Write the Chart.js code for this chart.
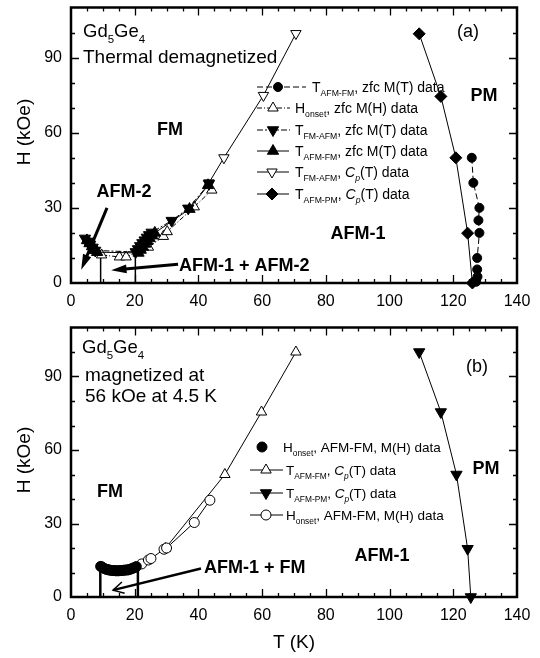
<!DOCTYPE html>
<html>
<head>
<meta charset="utf-8">
<script src="https://cdn.jsdelivr.net/npm/chart.js@4.4.1/dist/chart.umd.min.js"></script>
<style>
  html, body { margin: 0; padding: 0; background: #fff; }
  #wrap { position: relative; width: 540px; height: 658px; }
  #wrap canvas { position: absolute; left: 0; }
  #chartA { top: 0; width: 540px; height: 320px; }
  #chartB { top: 320px; width: 540px; height: 338px; }
</style>
</head>
<body>
<div id="wrap">
  <canvas id="chartA" width="540" height="320"></canvas>
  <canvas id="chartB" width="540" height="338"></canvas>
</div>
<script>
//------------- DATA: panel (a), thermal demagnetized -------------

// T_AFM-FM, zfc M(T) data (filled circles, dashed)
const aCircT = [125.8, 126.3, 128.2, 127.9, 128.2, 127.5, 127.5, 127.6, 127.2];
const aCircH = [50, 40, 30, 25, 20, 10, 5.4, 2.5, 0.5];
// H_onset, zfc M(H) data (open up triangles, dashed)
const aOnsetT = [7.0, 9.6, 15.2, 17.3, 24.3, 29.0, 30.2, 38.7, 44.2];
const aOnsetH = [13.0, 11.2, 10.4, 10.4, 14.3, 18.6, 20.5, 30.4, 37.1];
// T_FM-AFM, zfc M(T) data (filled down triangles, dash-dot)
const aFmAfmT = [4.4, 5.2, 6.0, 6.8, 7.6, 20.3, 21.0, 21.7, 22.4, 23.1, 23.8, 24.5, 25.3, 31.6, 36.8, 43.3];
const aFmAfmH = [17.8, 16.6, 15.4, 14.2, 13.0, 12.4, 13.6, 14.8, 16.0, 17.1, 18.2, 19.2, 20.2, 24.9, 29.8, 39.6];
// T_AFM-FM, zfc M(T) data (filled up triangles, solid)
const aAfmFmT = [5.0, 5.8, 6.6, 7.4, 8.2, 21.2, 21.9, 22.6, 23.3, 24.0, 24.7, 25.5, 26.3, 37.2, 43.0];
const aAfmFmH = [17.0, 15.8, 14.6, 13.4, 12.3, 12.0, 13.2, 14.4, 15.6, 16.7, 17.8, 18.9, 20.0, 29.5, 39.0];
// T_FM-AFM, Cp(T) data (open down triangles, solid)
const aCpT = [43.3, 48.0, 60.4, 70.6];
const aCpH = [40, 50, 74.9, 99.6];
// T_AFM-PM, Cp(T) data (filled diamonds, solid)
const aPmT = [109.3, 116.1, 120.8, 124.5, 126.0];
const aPmH = [99.5, 74.5, 50, 19.9, 0];
// vertical phase boundaries at low T
const aWallT = [9.3, 20.2];
const aWallH = [11, 11.5];

//------------- DATA: panel (b), magnetized at 56 kOe -------------

// H_onset, AFM-FM, M(H) data (filled circles)
const bFillT = [9.3, 9.6, 10.0, 10.5, 11.0, 11.5, 12.0, 12.5, 13.0, 13.5, 14.0, 14.5, 15.0, 15.5, 16.0, 16.5, 17.0, 17.5, 18.0, 18.5, 19.0, 19.5, 20.0, 20.5];
const bFillH = [12.5, 12.3, 12.0, 11.6, 11.3, 11.2, 11.0, 10.9, 10.8, 10.8, 10.7, 10.7, 10.7, 10.8, 10.8, 10.9, 11.0, 11.0, 11.1, 11.3, 11.5, 11.8, 12.0, 12.4];
// T_AFM-FM, Cp(T) data (open up triangles)
const bCpT = [29.6, 48.3, 59.8, 70.6];
const bCpH = [19.8, 50, 75.5, 100];
// T_AFM-PM, Cp(T) data (filled down triangles)
const bPmT = [109.3, 116.1, 121.0, 124.5, 125.5];
const bPmH = [100, 75.5, 50, 19.7, 0];
// H_onset, AFM-FM, M(H) data (open circles)
const bOpenT = [22.2, 24.3, 25.1, 29.2, 30.0, 38.7, 43.6];
const bOpenH = [13.5, 15.1, 15.7, 19.5, 20.0, 30.4, 39.5];
const bWallT = [9.2, 21.0];
const bWallH = [12, 12];

const xTicks = [0, 20, 40, 60, 80, 100, 120, 140];
const yTicks = [0, 30, 60, 90];

//------------- HELPERS -------------

const FONT = '"Liberation Sans", Arial, Helvetica, sans-serif';
Chart.defaults.font.family = FONT;
Chart.defaults.color = '#000';

const pts = (xs, ys) => xs.map((x, i) => ({ x: x, y: ys[i] }));

function series(xs, ys, o) {
  return Object.assign({
    data: pts(xs, ys),
    showLine: true,
    borderColor: '#000',
    backgroundColor: '#000',
    borderWidth: 1,
    pointBorderWidth: 1,
    pointRadius: 5,
    pointStyle: 'circle',
    pointRotation: 0,
    tension: 0,
    clip: false
  }, o);
}

function wall(t, h) {
  return series([t, t], [0, h], { pointRadius: 0, borderWidth: 1.5 });
}

function rich(ctx, x, y, parts, size, bold) {
  let cx = x;
  for (const [t, k] of parts) {
    const sub = k.includes('s');
    const it = k.includes('i');
    const fs = sub ? size * 0.62 : size;
    ctx.font = (it ? 'italic ' : '') + (bold ? 'bold ' : '') + fs + 'px ' + FONT;
    ctx.fillText(t, cx, sub ? y + size * 0.3 : y);
    cx += ctx.measureText(t).width;
  }
}

function text(ctx, s, x, y, size, bold, align) {
  ctx.font = (bold ? 'bold ' : '') + size + 'px ' + FONT;
  ctx.textAlign = align || 'left';
  ctx.textBaseline = 'middle';
  ctx.fillText(s, x, y);
  ctx.textAlign = 'left';
  ctx.textBaseline = 'alphabetic';
}

function arrow(chart, t1, h1, t2, h2, w, head, filled) {
  const ctx = chart.ctx, xs = chart.scales.x, ys = chart.scales.y;
  const x1 = xs.getPixelForValue(t1), y1 = ys.getPixelForValue(h1);
  const x2 = xs.getPixelForValue(t2), y2 = ys.getPixelForValue(h2);
  const a = Math.atan2(y2 - y1, x2 - x1);
  const spread = filled ? 0.28 : 0.5;
  ctx.save();
  ctx.strokeStyle = '#000';
  ctx.fillStyle = '#000';
  ctx.lineWidth = w;
  ctx.beginPath();
  ctx.moveTo(x1, y1);
  ctx.lineTo(filled ? x2 - Math.cos(a) * head * 0.7 : x2, filled ? y2 - Math.sin(a) * head * 0.7 : y2);
  ctx.stroke();
  const p1 = [x2 - head * Math.cos(a - spread), y2 - head * Math.sin(a - spread)];
  const p2 = [x2 - head * Math.cos(a + spread), y2 - head * Math.sin(a + spread)];
  ctx.beginPath();
  ctx.moveTo(p1[0], p1[1]);
  ctx.lineTo(x2, y2);
  ctx.lineTo(p2[0], p2[1]);
  if (filled) { ctx.closePath(); ctx.fill(); }
  else { ctx.lineWidth = 1.5; ctx.stroke(); }
  ctx.restore();
}

function legendRow(ctx, y, x0, x1, dash, mx, marker, fill, textX, parts, size) {
  ctx.save();
  ctx.strokeStyle = '#000';
  ctx.lineWidth = 1;
  if (x1 > x0) {
    ctx.setLineDash(dash);
    ctx.beginPath();
    ctx.moveTo(x0, y);
    ctx.lineTo(x1, y);
    ctx.stroke();
    ctx.setLineDash([]);
  }
  ctx.fillStyle = fill;
  Chart.helpers.drawPoint(ctx, marker, mx, y);
  ctx.fillStyle = '#000';
  rich(ctx, textX, y + 4.5, parts, size || 13.5);
  ctx.restore();
}

// frame with inward ticks on all four sides
const framePlugin = {
  id: 'frame',
  beforeDatasetsDraw(chart) {
    const ctx = chart.ctx, a = chart.chartArea;
    const xs = chart.scales.x, ys = chart.scales.y;
    ctx.save();
    ctx.strokeStyle = '#000';
    ctx.lineWidth = 1.3;
    ctx.beginPath();
    for (let t = 5; t < 140; t += 5) {
      const px = Math.round(xs.getPixelForValue(t)) + 0.5;
      const len = t % 20 === 0 ? 8 : 4;
      ctx.moveTo(px, a.bottom); ctx.lineTo(px, a.bottom - len);
      ctx.moveTo(px, a.top); ctx.lineTo(px, a.top + len);
    }
    for (let h = 10; h < 110; h += 10) {
      const py = Math.round(ys.getPixelForValue(h)) + 0.5;
      const len = h % 30 === 0 ? 8 : 4;
      ctx.moveTo(a.left, py); ctx.lineTo(a.left + len, py);
      ctx.moveTo(a.right, py); ctx.lineTo(a.right - len, py);
    }
    ctx.stroke();
    ctx.lineWidth = 2.5;
    ctx.strokeRect(a.left, a.top, a.right - a.left, a.bottom - a.top);
    ctx.restore();
  }
};

function scales(xHeight) {
  return {
    x: {
      type: 'linear', min: 0, max: 140,
      grid: { display: false, drawTicks: false },
      border: { display: false },
      afterBuildTicks(s) { s.ticks = xTicks.map(v => ({ value: v })); },
      afterFit(s) { s.height = xHeight; s.paddingLeft = 0; s.paddingRight = 0; },
      ticks: { padding: 9, font: { size: 16 }, maxRotation: 0, color: '#000' }
    },
    y: {
      type: 'linear', min: 0, max: 110,
      grid: { display: false, drawTicks: false },
      border: { display: false },
      afterBuildTicks(s) { s.ticks = yTicks.map(v => ({ value: v })); },
      afterFit(s) { s.width = 71; s.paddingTop = 0; s.paddingBottom = 0; },
      ticks: { padding: 9, font: { size: 16 }, color: '#000' }
    }
  };
}

//------------- PANEL (a) -------------

const tri = (r, rot) => ({ pointStyle: 'triangle', radius: r, rotation: rot, borderWidth: 1 });

const annotA = {
  id: 'annotA',
  afterDraw(chart) {
    const ctx = chart.ctx;
    ctx.save();
    ctx.fillStyle = '#000';
    rich(ctx, 83, 37, [['Gd', ''], ['5', 's'], ['Ge', ''], ['4', 's']], 18.5);
    rich(ctx, 83, 63, [['Thermal demagnetized', '']], 19);
    text(ctx, '(a)', 468, 32, 18, false, 'center');
    text(ctx, 'PM', 484, 96, 18, true, 'center');
    text(ctx, 'FM', 170, 130, 18, true, 'center');
    text(ctx, 'AFM-2', 124, 192, 18, true, 'center');
    text(ctx, 'AFM-1', 358, 234, 18, true, 'center');
    text(ctx, 'AFM-1 + AFM-2', 179, 266, 18, true, 'left');
    ctx.save();
    ctx.translate(25, 132);
    ctx.rotate(-Math.PI / 2);
    text(ctx, 'H (kOe)', 0, 0, 19, false, 'center');
    ctx.restore();

    legendRow(ctx, 87, 257, 306, [6, 3], 278, { pointStyle: 'circle', radius: 4.5, borderWidth: 1 }, '#000', 312,
      [['T', ''], ['AFM-FM', 's'], [', zfc M(T) data', '']], 14);
    legendRow(ctx, 108, 257, 290, [5, 2, 1, 2], 273, tri(6, 0), '#fff', 295,
      [['H', ''], ['onset', 's'], [', zfc M(H) data', '']], 14);
    legendRow(ctx, 130, 257, 290, [6, 2, 2, 2], 273, tri(6.5, 180), '#000', 295,
      [['T', ''], ['FM-AFM', 's'], [', zfc M(T) data', '']], 14);
    legendRow(ctx, 151, 257, 289, [], 273, tri(6.5, 0), '#000', 295,
      [['T', ''], ['AFM-FM', 's'], [', zfc M(T) data', '']], 14);
    legendRow(ctx, 172, 257, 289, [], 272, tri(6, 180), '#fff', 295,
      [['T', ''], ['FM-AFM', 's'], [', ', ''], ['C', 'i'], ['p', 'is'], ['(T) data', '']], 14);
    legendRow(ctx, 194, 257, 289, [], 272, { pointStyle: 'rectRot', radius: 6, borderWidth: 1 }, '#000', 295,
      [['T', ''], ['AFM-PM', 's'], [', ', ''], ['C', 'i'], ['p', 'is'], ['(T) data', '']], 14);

    arrow(chart, 11.3, 30, 3.2, 5.3, 3, 16, true);
    arrow(chart, 33.6, 7.5, 12.6, 5.1, 3, 16, true);
    ctx.restore();
  }
};

const chartA = new Chart(document.getElementById('chartA'), {
  type: 'scatter',
  data: {
    datasets: [
      series(aFmAfmT, aFmAfmH, { pointStyle: 'triangle', pointRotation: 180, pointRadius: 6.5, borderDash: [6, 2, 2, 2] }),
      series(aAfmFmT, aAfmFmH, { pointStyle: 'triangle', pointRadius: 6.5 }),
      series(aCircT, aCircH, { pointRadius: 4.5, borderDash: [6, 3] }),
      series(aPmT, aPmH, { pointStyle: 'rectRot', pointRadius: 6 }),
      series(aOnsetT, aOnsetH, { pointStyle: 'triangle', pointRadius: 6, backgroundColor: '#fff', borderDash: [5, 2, 1, 2] }),
      series(aCpT, aCpH, { pointStyle: 'triangle', pointRotation: 180, pointRadius: 6, backgroundColor: '#fff' }),
      wall(aWallT[0], aWallH[0]),
      wall(aWallT[1], aWallH[1])
    ]
  },
  options: {
    responsive: false,
    animation: false,
    devicePixelRatio: 1,
    layout: { padding: { left: 0, right: 23, top: 6, bottom: 0 } },
    plugins: { legend: { display: false }, tooltip: { enabled: false } },
    scales: scales(37)
  },
  plugins: [framePlugin, annotA]
});

//------------- PANEL (b) -------------

const annotB = {
  id: 'annotB',
  afterDraw(chart) {
    const ctx = chart.ctx;
    ctx.save();
    ctx.fillStyle = '#000';
    rich(ctx, 82, 33, [['Gd', ''], ['5', 's'], ['Ge', ''], ['4', 's']], 18.5);
    rich(ctx, 85, 61, [['magnetized at', '']], 19);
    rich(ctx, 85, 82, [['56 kOe at 4.5 K', '']], 19);
    text(ctx, '(b)', 477, 47, 18, false, 'center');
    text(ctx, 'PM', 486, 149, 18, true, 'center');
    text(ctx, 'FM', 110, 172, 18, true, 'center');
    text(ctx, 'AFM-1', 382, 236, 18, true, 'center');
    text(ctx, 'AFM-1 + FM', 204, 248, 18, true, 'left');
    ctx.save();
    ctx.translate(25, 140);
    ctx.rotate(-Math.PI / 2);
    text(ctx, 'H (kOe)', 0, 0, 19, false, 'center');
    ctx.restore();
    text(ctx, 'T (K)', 294, 323, 19, false, 'center');

    legendRow(ctx, 127, 0, 0, [], 262, { pointStyle: 'circle', radius: 5, borderWidth: 1 }, '#000', 283,
      [['H', ''], ['onset', 's'], [', AFM-FM, M(H) data', '']]);
    legendRow(ctx, 150, 250, 283, [], 266, tri(6, 0), '#fff', 286,
      [['T', ''], ['AFM-FM', 's'], [', ', ''], ['C', 'i'], ['p', 'is'], ['(T) data', '']]);
    legendRow(ctx, 173, 250, 283, [], 266, tri(6.5, 180), '#000', 286,
      [['T', ''], ['AFM-PM', 's'], [', ', ''], ['C', 'i'], ['p', 'is'], ['(T) data', '']]);
    legendRow(ctx, 195, 250, 283, [], 266, { pointStyle: 'circle', radius: 5, borderWidth: 1 }, '#fff', 286,
      [['H', ''], ['onset', 's'], [', AFM-FM, M(H) data', '']]);

    arrow(chart, 40.8, 11.6, 13.2, 2.8, 2.5, 12, false);
    ctx.restore();
  }
};

const chartB = new Chart(document.getElementById('chartB'), {
  type: 'scatter',
  data: {
    datasets: [
      series(bFillT, bFillH, { showLine: false, pointRadius: 5 }),
      series(bPmT, bPmH, { pointStyle: 'triangle', pointRotation: 180, pointRadius: 6.5 }),
      series(bOpenT, bOpenH, { pointRadius: 5, backgroundColor: '#fff' }),
      series(bCpT, bCpH, { pointStyle: 'triangle', pointRadius: 6, backgroundColor: '#fff' }),
      series([bWallT[0], bWallT[0]], [0, bWallH[0]], { pointRadius: 0, borderWidth: 2.5 }),
      series([bWallT[1], bWallT[1]], [0, bWallH[1]], { pointRadius: 0, borderWidth: 2.5 })
    ]
  },
  options: {
    responsive: false,
    animation: false,
    devicePixelRatio: 1,
    layout: { padding: { left: 0, right: 23, top: 2, bottom: 0 } },
    plugins: { legend: { display: false }, tooltip: { enabled: false } },
    scales: scales(61)
  },
  plugins: [framePlugin, annotB]
});
</script>
</body>
</html>
